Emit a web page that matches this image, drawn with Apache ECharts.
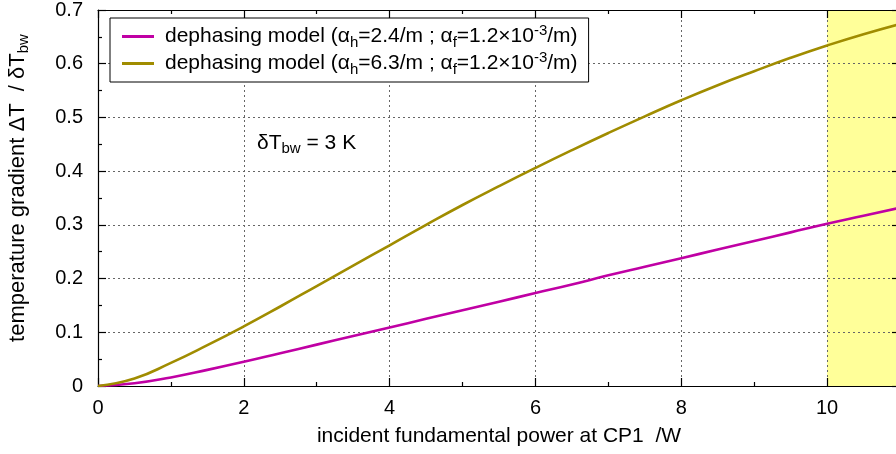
<!DOCTYPE html>
<html>
<head>
<meta charset="utf-8">
<script src="https://cdn.jsdelivr.net/npm/echarts@6/dist/echarts.min.js"></script>
<style>
  html, body { margin: 0; padding: 0; background: #fff; }
  #chart { width: 896px; height: 454px; }
</style>
</head>
<body>
<div id="chart"></div>
<script>
// Incident power at CP1 (W)
const powerW = [0, 0.5, 1, 1.5, 2, 2.5, 3, 3.5, 4, 4.5, 5, 5.5, 6, 6.5, 7, 7.5, 8, 8.5, 9, 9.5, 10, 10.5, 11];
// Normalised temperature gradient, alpha_h = 2.4/m
const gradLowAbs = [0, 0.005, 0.016, 0.030, 0.045, 0.061, 0.077, 0.093, 0.109, 0.125, 0.141, 0.157, 0.173, 0.189, 0.206, 0.222, 0.238, 0.254, 0.270, 0.286, 0.302, 0.317, 0.332];
// Normalised temperature gradient, alpha_h = 6.3/m
const gradHighAbs = [0, 0.014, 0.043, 0.076, 0.111, 0.148, 0.186, 0.224, 0.262, 0.300, 0.337, 0.372, 0.406, 0.439, 0.471, 0.502, 0.532, 0.560, 0.586, 0.611, 0.634, 0.655, 0.674];
// Highlighted power range (W)
const highlightRange = [10, 11];
const xTicks = { min: 0, max: 11, interval: 2 };
const yTicks = { min: 0, max: 0.7, interval: 0.1 };

const seriesNames = [
  'dephasing model (α{sub|h}=2.4/m ; α{sub|f}=1.2×10{sup|-3}/m)',
  'dephasing model (α{sub|h}=6.3/m ; α{sub|f}=1.2×10{sup|-3}/m)'
];

const FONT = 'Liberation Sans, Arial, sans-serif';
const richStyles = {
  sub: { fontSize: 15, fontFamily: FONT, color: '#000', verticalAlign: 'bottom', lineHeight: 12 },
  sup: { fontSize: 15, fontFamily: FONT, color: '#000', verticalAlign: 'top', lineHeight: 12 }
};

const chart = echarts.init(document.getElementById('chart'), null, { renderer: 'canvas' });

const pairs = (ys) => powerW.map((x, i) => [x, ys[i]]);

const gridLine = { show: true, lineStyle: { color: '#666', width: 1, type: [2, 3] } };
const axisLine = { show: true, onZero: false, lineStyle: { color: '#000', width: 1.2 } };
const tick = { show: true, inside: true, length: 8, lineStyle: { color: '#000', width: 1.2 } };
const minor = { show: true, splitNumber: 2, length: 4, lineStyle: { color: '#000', width: 1.2 } };

chart.setOption({
  animation: false,
  backgroundColor: '#fff',
  grid: { left: 98, right: -4, top: 10, bottom: 68, containLabel: false, outerBoundsMode: 'none' },
  legend: {
    orient: 'vertical',
    left: 110,
    top: 18,
    padding: [5, 11, 5, 12],
    itemGap: 0,
    itemWidth: 32,
    itemHeight: 3,
    icon: 'rect',
    borderColor: '#000',
    borderWidth: 1,
    backgroundColor: '#fff',
    textStyle: {
      fontSize: 21, fontFamily: FONT, color: '#000', lineHeight: 27,
      padding: [0, 0, 0, 6], rich: richStyles
    },
    data: seriesNames
  },
  xAxis: [
    {
      type: 'value', min: xTicks.min, max: xTicks.max, interval: xTicks.interval,
      name: 'incident fundamental power at CP1  /W',
      nameLocation: 'middle', nameGap: 40,
      nameTextStyle: { fontSize: 21, fontFamily: FONT, color: '#000' },
      axisLine: axisLine, axisTick: tick, minorTick: minor,
      axisLabel: { fontSize: 20, fontFamily: FONT, color: '#000', margin: 12, showMaxLabel: false },
      splitLine: gridLine
    },
    {
      type: 'value', position: 'top', min: xTicks.min, max: xTicks.max, interval: xTicks.interval,
      axisLine: axisLine, axisTick: tick, minorTick: minor,
      axisLabel: { show: false },
      splitLine: { show: false }
    }
  ],
  yAxis: [
    {
      type: 'value', min: yTicks.min, max: yTicks.max, interval: yTicks.interval,
      name: 'temperature gradient ΔT  / δT{sub|bw}',
      nameLocation: 'middle', nameGap: 67, nameRotate: 90,
      nameTextStyle: {
        fontSize: 22, fontFamily: FONT, color: '#000', lineHeight: 26,
        padding: [0, 0, 0, 20], rich: richStyles
      },
      axisLine: axisLine, axisTick: tick, minorTick: minor,
      axisLabel: {
        fontSize: 20, fontFamily: FONT, color: '#000', margin: 15,
        formatter: (v) => (Math.round(v * 10) / 10).toString()
      },
      splitLine: gridLine
    },
    {
      type: 'value', position: 'right', min: yTicks.min, max: yTicks.max, interval: yTicks.interval,
      axisLine: axisLine, axisTick: tick, minorTick: minor,
      axisLabel: { show: false },
      splitLine: { show: false }
    }
  ],
  graphic: [
    {
      type: 'text', left: 257, top: 130,
      style: {
        text: 'δT{sub|bw} = 3 K',
        fontSize: 21, fontFamily: FONT, fill: '#000', lineHeight: 26,
        rich: richStyles
      }
    }
  ],
  series: [
    {
      name: seriesNames[0], type: 'line', data: pairs(gradLowAbs),
      smooth: 0.5, showSymbol: false, symbol: 'none',
      lineStyle: { color: '#c000a4', width: 2.6 }, itemStyle: { color: '#c000a4' },
      z: 3,
      markArea: {
        silent: true, z: -1,
        itemStyle: { color: '#ffff99' },
        data: [[{ xAxis: highlightRange[0] }, { xAxis: highlightRange[1] }]]
      }
    },
    {
      name: seriesNames[1], type: 'line', data: pairs(gradHighAbs),
      smooth: 0.5, showSymbol: false, symbol: 'none',
      lineStyle: { color: '#a08c00', width: 2.6 }, itemStyle: { color: '#a08c00' },
      z: 3
    }
  ]
});
</script>
</body>
</html>
